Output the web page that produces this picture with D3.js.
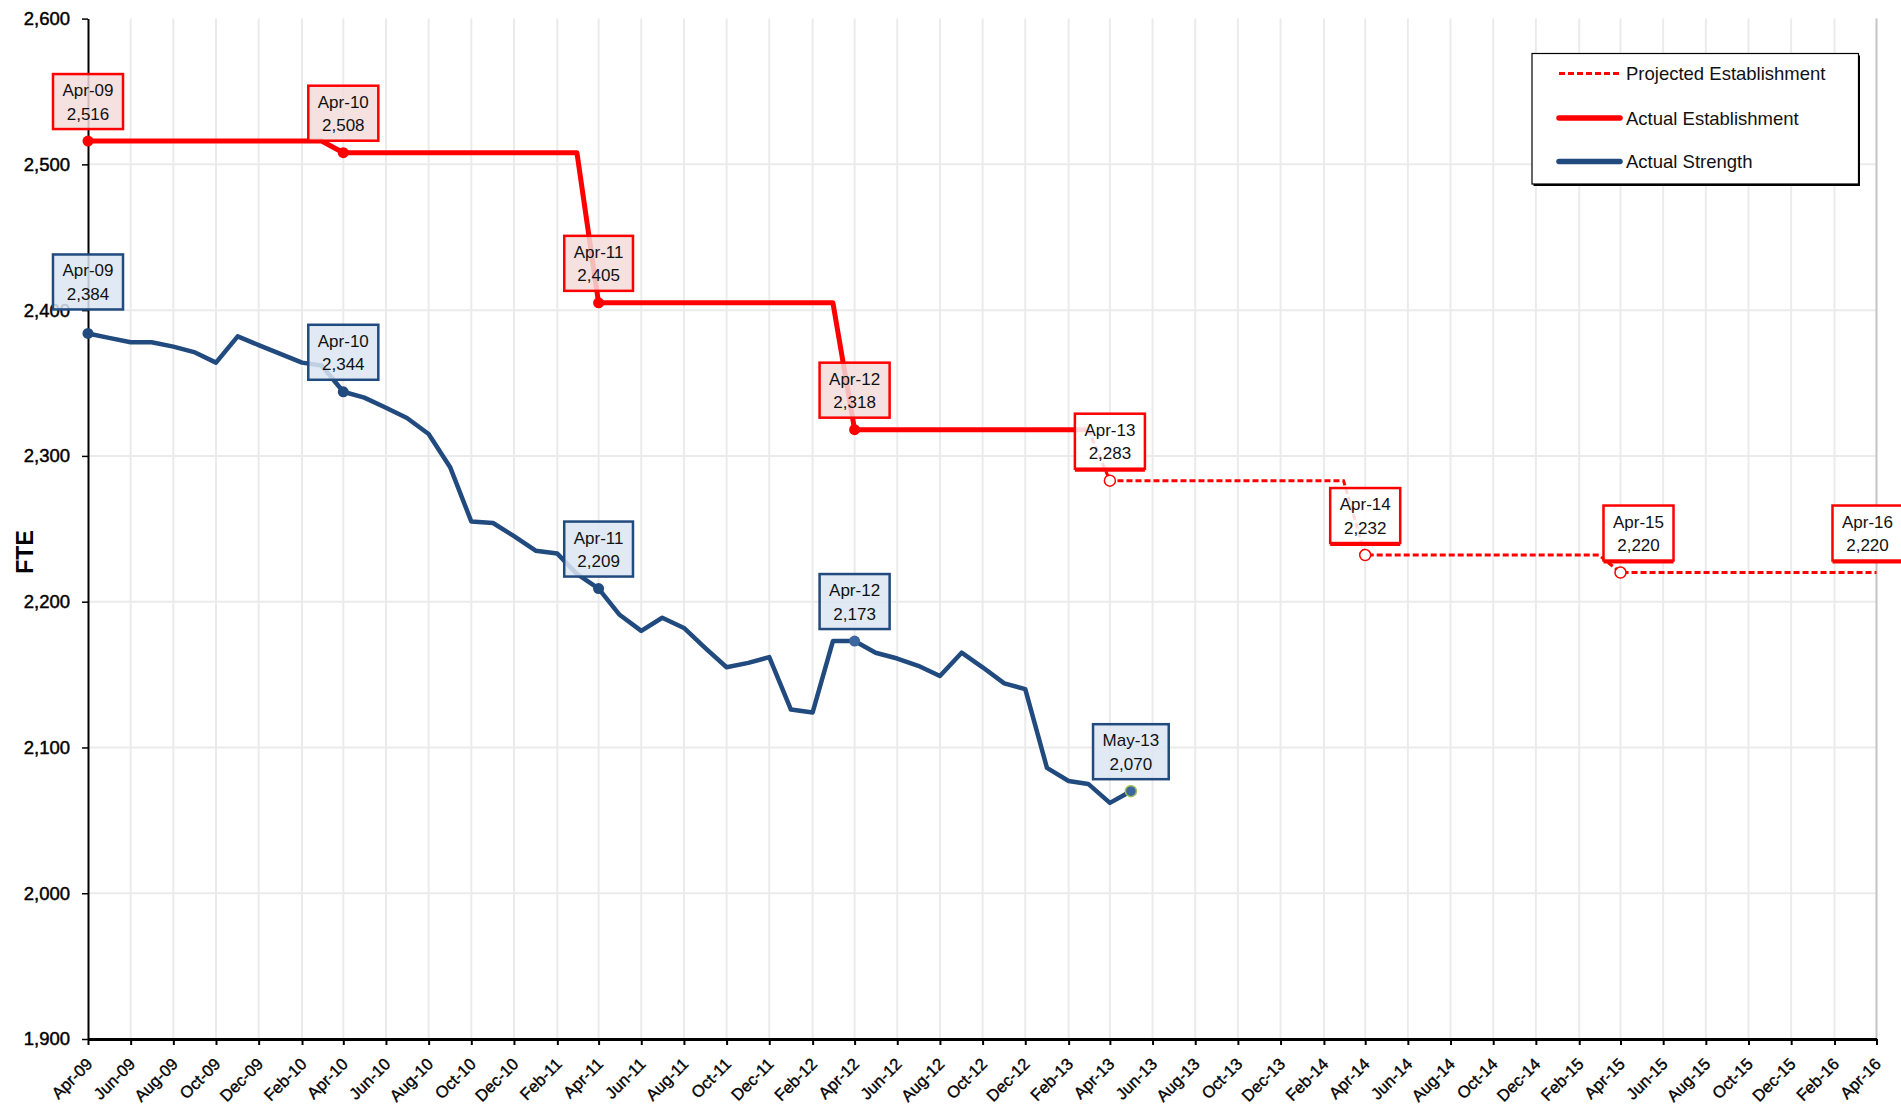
<!DOCTYPE html>
<meta charset="utf-8">
<script src="https://d3js.org/d3.v7.min.js"></script>
<style>
  body { margin: 0; background: #fff; }
  text { font-family: "Liberation Sans", Arial, sans-serif; }
</style>
<div id="chart"></div>
<script>

// ---- data (monthly FTE) ----
var strengthStart = "2009-04";
var strength = [
  2384, 2381, 2378, 2378, 2375, 2371, 2364, 2382, 2376, 2370, 2364, 2362,   // Apr-09 .. Mar-10
  2344, 2340, 2333, 2326, 2315, 2292, 2255, 2254, 2245, 2235, 2233, 2219,   // Apr-10 .. Mar-11
  2209, 2191, 2180, 2189, 2182, 2168, 2155, 2158, 2162, 2126, 2124, 2173,   // Apr-11 .. Mar-12
  2173, 2165, 2161, 2156, 2149, 2165, 2155, 2144, 2140, 2086, 2077, 2075,   // Apr-12 .. Mar-13
  2062, 2070                                                                // Apr-13 .. May-13
];

var establishmentStart = "2009-04";
var establishment = [
  2516, 2516, 2516, 2516, 2516, 2516, 2516, 2516, 2516, 2516, 2516, 2516,
  2508, 2508, 2508, 2508, 2508, 2508, 2508, 2508, 2508, 2508, 2508, 2508,
  2405, 2405, 2405, 2405, 2405, 2405, 2405, 2405, 2405, 2405, 2405, 2405,
  2318, 2318, 2318, 2318, 2318, 2318, 2318, 2318, 2318, 2318, 2318, 2318
];

var projectedStart = "2013-03";
var projected = [
  2318,
  2283, 2283, 2283, 2283, 2283, 2283, 2283, 2283, 2283, 2283, 2283, 2283,
  2232, 2232, 2232, 2232, 2232, 2232, 2232, 2232, 2232, 2232, 2232, 2232,
  2220, 2220, 2220, 2220, 2220, 2220, 2220, 2220, 2220, 2220, 2220, 2220, 2220
];

var seriesNames = ["Projected Establishment", "Actual Establishment", "Actual Strength"];
var yTicks = [1900, 2000, 2100, 2200, 2300, 2400, 2500, 2600];
var xFirst = "2009-04", xLast = "2016-04";

// which points carry a data label
var strengthLabelled = ["2009-04", "2010-04", "2011-04", "2012-04", "2013-05"];
var establishmentLabelled = ["2009-04", "2010-04", "2011-04", "2012-04"];
var projectedLabelled = ["2013-04", "2014-04", "2015-04", "2016-04"];

// ---- layout ----
var W = 1901, H = 1109;
var margin = {top: 18.6, right: W - 1876.5, bottom: H - 1039, left: 88};
var width = W - margin.left - margin.right,
    height = H - margin.top - margin.bottom;

var parseM = d3.timeParse("%Y-%m");
var fmtM = d3.timeFormat("%b-%y");
var fmtN = d3.format(",");

function toPoints(start, vals) {
  var s = parseM(start);
  return vals.map(function(v, i) { return {date: d3.timeMonth.offset(s, i), value: v}; });
}
var strengthPts = toPoints(strengthStart, strength);
var establishmentPts = toPoints(establishmentStart, establishment);
var projectedPts = toPoints(projectedStart, projected);

var svg = d3.select("#chart").append("svg")
    .attr("width", W).attr("height", H)
    .style("display", "block");
svg.append("rect").attr("width", W).attr("height", H).attr("fill", "#fff");

var g = svg.append("g").attr("transform", "translate(" + margin.left + "," + margin.top + ")");

var x = d3.scaleTime()
    .domain([parseM(xFirst), parseM(xLast)])
    .range([0, width]);
var y = d3.scaleLinear()
    .domain([1900, 2600])
    .range([height, 0]);

var xTicks = d3.timeMonth.range(parseM(xFirst), d3.timeMonth.offset(parseM(xLast), 1), 2);

// gridlines
g.append("g").selectAll("line").data(xTicks.slice(1, -1)).enter().append("line")
    .attr("x1", function(d) { return x(d); }).attr("x2", function(d) { return x(d); })
    .attr("y1", 0).attr("y2", height)
    .attr("stroke", "#ebebeb").attr("stroke-width", 2);
g.append("g").selectAll("line").data(yTicks.slice(1, -1)).enter().append("line")
    .attr("x1", 0).attr("x2", width)
    .attr("y1", function(d) { return y(d); }).attr("y2", function(d) { return y(d); })
    .attr("stroke", "#ebebeb").attr("stroke-width", 2);
// right plot edge
g.append("line").attr("x1", width).attr("x2", width).attr("y1", 0).attr("y2", height)
    .attr("stroke", "#c4c4c4").attr("stroke-width", 2);

// axes
var yAxis = g.append("g")
    .call(d3.axisLeft(y).tickValues(yTicks).tickFormat(fmtN).tickSize(6).tickPadding(12).tickSizeOuter(0));
yAxis.select(".domain").attr("stroke", "#000").attr("stroke-width", 2);
yAxis.selectAll(".tick line").attr("stroke", "#000").attr("stroke-width", 1.5);
yAxis.selectAll(".tick text")
    .attr("font-size", 18.5).attr("fill", "#000")
    .attr("stroke", "#000").attr("stroke-width", 0.45)
    .style("font-family", "'Liberation Sans', Arial, sans-serif");

var xAxis = g.append("g")
    .attr("transform", "translate(0," + height + ")")
    .call(d3.axisBottom(x).tickValues(xTicks).tickFormat(fmtM).tickSize(6).tickSizeOuter(0));
xAxis.select(".domain").attr("stroke", "#000").attr("stroke-width", 3);
xAxis.selectAll(".tick line").attr("stroke", "#000").attr("stroke-width", 2);
xAxis.selectAll(".tick text")
    .attr("x", 0).attr("y", 0).attr("dy", "0.35em")
    .attr("text-anchor", "end")
    .attr("transform", "translate(1,22) rotate(-45)")
    .attr("font-size", 16.5).attr("fill", "#000")
    .attr("stroke", "#000").attr("stroke-width", 0.35)
    .style("font-family", "'Liberation Sans', Arial, sans-serif");

// y title
svg.append("text")
    .attr("transform", "translate(25,552) rotate(-90)")
    .attr("text-anchor", "middle")
    .attr("dominant-baseline", "central")
    .attr("font-size", 23).attr("font-weight", "bold")
    .text("FTE");

// lines
var line = d3.line()
    .x(function(d) { return x(d.date); })
    .y(function(d) { return y(d.value); });

g.append("path").datum(projectedPts)
    .attr("d", line).attr("fill", "none")
    .attr("stroke", "#ff0000").attr("stroke-width", 3)
    .attr("stroke-dasharray", "6,3");
g.append("path").datum(establishmentPts)
    .attr("d", line).attr("fill", "none")
    .attr("stroke", "#ff0000").attr("stroke-width", 5)
    .attr("stroke-linejoin", "round").attr("stroke-linecap", "round");
g.append("path").datum(strengthPts)
    .attr("d", line).attr("fill", "none")
    .attr("stroke", "#214a7e").attr("stroke-width", 4.5)
    .attr("stroke-linejoin", "round").attr("stroke-linecap", "round");

function pick(pts, keys) {
  var f = d3.timeFormat("%Y-%m");
  return pts.filter(function(d) { return keys.indexOf(f(d.date)) >= 0; });
}

// markers
g.append("g").selectAll("circle").data(pick(establishmentPts, establishmentLabelled)).enter().append("circle")
    .attr("cx", function(d) { return x(d.date); }).attr("cy", function(d) { return y(d.value); })
    .attr("r", 5.5).attr("fill", "#ff0000");
g.append("g").selectAll("circle").data(pick(projectedPts, projectedLabelled.slice(0, 3))).enter().append("circle")
    .attr("cx", function(d) { return x(d.date); }).attr("cy", function(d) { return y(d.value); })
    .attr("r", 5.5).attr("fill", "#fff").attr("stroke", "#ff0000").attr("stroke-width", 1.5);
g.append("g").selectAll("circle").data(pick(strengthPts, strengthLabelled)).enter().append("circle")
    .attr("cx", function(d) { return x(d.date); }).attr("cy", function(d) { return y(d.value); })
    .attr("r", 5.5)
    .attr("fill", function(d, i) { return i >= 3 ? "#3b66a0" : "#214a7e"; })
    .attr("stroke", function(d, i) { return i === 4 ? "#9bbb59" : "none"; })
    .attr("stroke-width", 1.5);

// data labels
var nudge = {
  "s-2009-04": {dx: 0, dy: -12},
  "p-2015-04": {dx: 18, dy: 0},
  "p-2016-04": {dx: -9, dy: 0}
};
function drawLabels(pts, key, fill, stroke, shadow) {
  var f = d3.timeFormat("%Y-%m");
  pts.forEach(function(d) {
    var n = nudge[key + "-" + f(d.date)] || {dx: 0, dy: 0};
    var cx = x(d.date) + n.dx;
    var bottom = y(d.value) - 12 + n.dy;
    var lg = g.append("g");
    var box = lg.append("rect");
    var t1 = lg.append("text").attr("x", cx).attr("y", bottom - 38.5)
        .attr("text-anchor", "middle").attr("dominant-baseline", "central")
        .attr("font-size", 17).attr("fill", "#111").text(fmtM(d.date));
    var t2 = lg.append("text").attr("x", cx).attr("y", bottom - 15)
        .attr("text-anchor", "middle").attr("dominant-baseline", "central")
        .attr("font-size", 17).attr("fill", "#111").text(fmtN(d.value));
    var w = Math.max(t1.node().getComputedTextLength(), t2.node().getComputedTextLength()) + 19;
    box.attr("x", cx - w / 2).attr("y", bottom - 55).attr("width", w).attr("height", 55)
        .attr("fill", fill).attr("fill-opacity", 0.85)
        .attr("stroke", stroke).attr("stroke-width", 2.5);
    if (shadow) {
      lg.insert("line", "text")
          .attr("x1", cx - w / 2).attr("x2", cx + w / 2)
          .attr("y1", bottom + 1.5).attr("y2", bottom + 1.5)
          .attr("stroke", stroke).attr("stroke-width", 3);
    }
  });
}
drawLabels(pick(establishmentPts, establishmentLabelled), "e", "#f2dcdb", "#ff0000", false);
drawLabels(pick(projectedPts, projectedLabelled), "p", "#ffffff", "#ff0000", true);
drawLabels(pick(strengthPts, strengthLabelled), "s", "#dce6f2", "#214a7e", false);

// legend
var legend = svg.append("g").attr("transform", "translate(1532,53.5)");
legend.append("rect").attr("x", 1.5).attr("y", 2).attr("width", 326.5).attr("height", 130.5).attr("fill", "#000");
legend.append("rect").attr("width", 326.5).attr("height", 130.5)
    .attr("fill", "#fff").attr("stroke", "#000").attr("stroke-width", 1.2);
var legendStyle = [
  {color: "#ff0000", w: 3, dash: "6,3", cap: "butt"},
  {color: "#ff0000", w: 5.5, dash: null, cap: "round"},
  {color: "#214a7e", w: 5.5, dash: null, cap: "round"}
];
var rowY = [20, 64.5, 108];
seriesNames.forEach(function(name, i) {
  var s = legendStyle[i];
  legend.append("line")
      .attr("x1", 27).attr("x2", 88).attr("y1", rowY[i]).attr("y2", rowY[i])
      .attr("stroke", s.color).attr("stroke-width", s.w)
      .attr("stroke-dasharray", s.dash).attr("stroke-linecap", s.cap);
  legend.append("text")
      .attr("x", 94).attr("y", rowY[i])
      .attr("dominant-baseline", "central")
      .attr("font-size", 18.5).attr("fill", "#111")
      .text(name);
});

</script>
